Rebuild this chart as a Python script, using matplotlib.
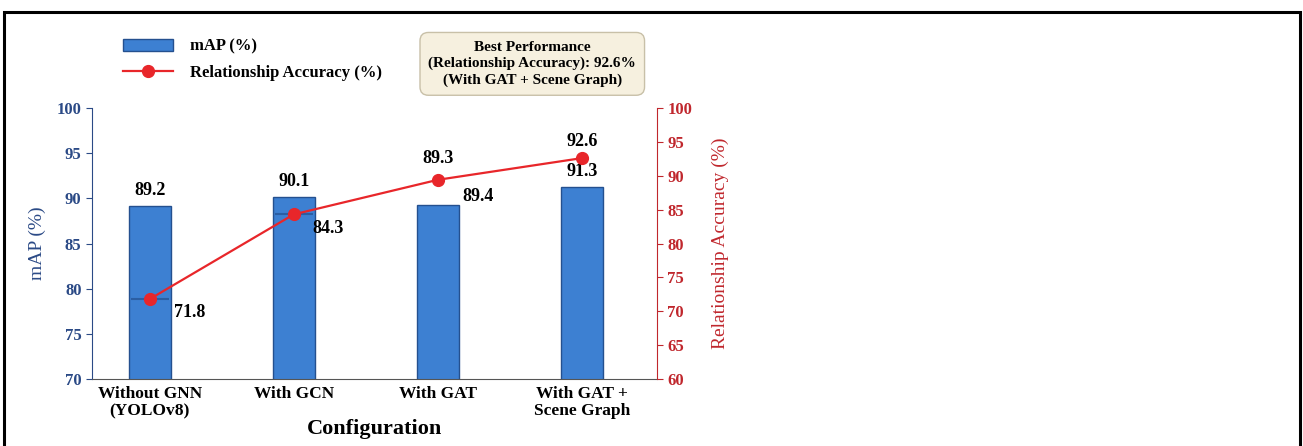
import matplotlib
matplotlib.use("Agg")
import matplotlib.pyplot as plt
from matplotlib.patches import Rectangle

# Data
configs = ["Without GNN\n(YOLOv8)", "With GCN", "With GAT", "With GAT +\nScene Graph"]
map_values = [89.2, 90.1, 89.3, 91.3]
rel_accuracy = [71.8, 84.3, 89.4, 92.6]
best_text = "Best Performance\n(Relationship Accuracy): 92.6%\n(With GAT + Scene Graph)"

plt.rcParams["font.family"] = ["Liberation Serif", "DejaVu Serif"]

BLUE_TXT = "#2b4a86"
RED = "#e8262a"
RED_TXT = "#c0272d"
BAR = "#3d80d2"
BAR_EDGE = "#24508f"

fig = plt.figure(figsize=(13.03, 4.46), dpi=100)
ax = fig.add_axes([0.0706, 0.150, 0.4336, 0.608])

x = list(range(len(configs)))
bars = ax.bar(x, map_values, width=0.29, color=BAR, edgecolor=BAR_EDGE,
              linewidth=1.0, zorder=2, label="mAP (%)")
ax.set_ylim(70, 100)
ax.set_xlim(-0.4, 3.52)
ax.set_yticks(range(70, 101, 5))
ax.tick_params(axis="y", colors=BLUE_TXT, labelsize=12, length=4)
for lbl in ax.get_yticklabels():
    lbl.set_fontweight("bold")
ax.set_xticks(x)
ax.set_xticklabels(configs, fontsize=12.5, fontweight="bold", linespacing=1.1)
ax.tick_params(axis="x", length=0, pad=5)
ax.set_ylabel("mAP (%)", color=BLUE_TXT, fontsize=14, labelpad=8)
ax.set_xlabel("Configuration", fontsize=16, fontweight="bold", labelpad=0)
for side in ("top", "right"):
    ax.spines[side].set_visible(False)
ax.spines["left"].set_color(BLUE_TXT)
ax.spines["bottom"].set_color("#555555")

# Bar value labels (the third sits above the accuracy marker)
bar_offsets = [5, 5, 27, 5]
for xi, v, dy in zip(x, map_values, bar_offsets):
    ax.annotate(f"{v:.1f}", (xi, v), xytext=(0, dy), textcoords="offset points",
                ha="center", va="bottom", fontsize=13, fontweight="bold")

ax2 = ax.twinx()
ax2.set_ylim(60, 100)
ax2.set_yticks(range(60, 101, 5))
line, = ax2.plot(x, rel_accuracy, color=RED, linewidth=1.6, marker="o",
                 markersize=8.5, markerfacecolor=RED, markeredgecolor=RED,
                 zorder=3, label="Relationship Accuracy (%)")
ax2.plot(x[:2], rel_accuracy[:2], linestyle="none", marker="_", markersize=28,
         markeredgewidth=1.5, color=BAR_EDGE, alpha=0.7, zorder=2.5)
ax2.tick_params(axis="y", colors=RED_TXT, labelsize=12, length=4)
for lbl in ax2.get_yticklabels():
    lbl.set_fontweight("bold")
ax2.set_ylabel("Relationship Accuracy (%)", color=RED_TXT, fontsize=14, labelpad=14)
for side in ("top", "left", "bottom"):
    ax2.spines[side].set_visible(False)
ax2.spines["right"].set_color(RED_TXT)

line_offsets = [(29, -10), (25, -10), (29, -12), (0, 12)]
for xi, v, off in zip(x, rel_accuracy, line_offsets):
    ax2.annotate(f"{v:.1f}", (xi, v), xytext=off, textcoords="offset points",
                 ha="center", va="center", fontsize=13, fontweight="bold")

# Legend
fig.legend(handles=[bars, line], labels=["mAP (%)", "Relationship Accuracy (%)"],
           loc="upper left", bbox_to_anchor=(0.083, 0.947), frameon=False,
           handlelength=3.0, handletextpad=1.0, labelspacing=0.6,
           prop={"weight": "bold", "size": 12})

# Highlight box
fig.text(0.4085, 0.857, best_text, ha="center", va="center", fontsize=11,
         fontweight="bold", linespacing=1.3,
         bbox=dict(boxstyle="round,pad=0.55", facecolor="#f6f0df",
                   edgecolor="#c8c0a8", linewidth=1.0))

# Outer frame
fig.add_artist(Rectangle((4 / 1303, -0.05), 1296 / 1303, 1.05 - 12 / 446,
                         transform=fig.transFigure, fill=False,
                         edgecolor="black", linewidth=2.2, clip_on=False))

fig.savefig("out.png", dpi=100, facecolor="white")
